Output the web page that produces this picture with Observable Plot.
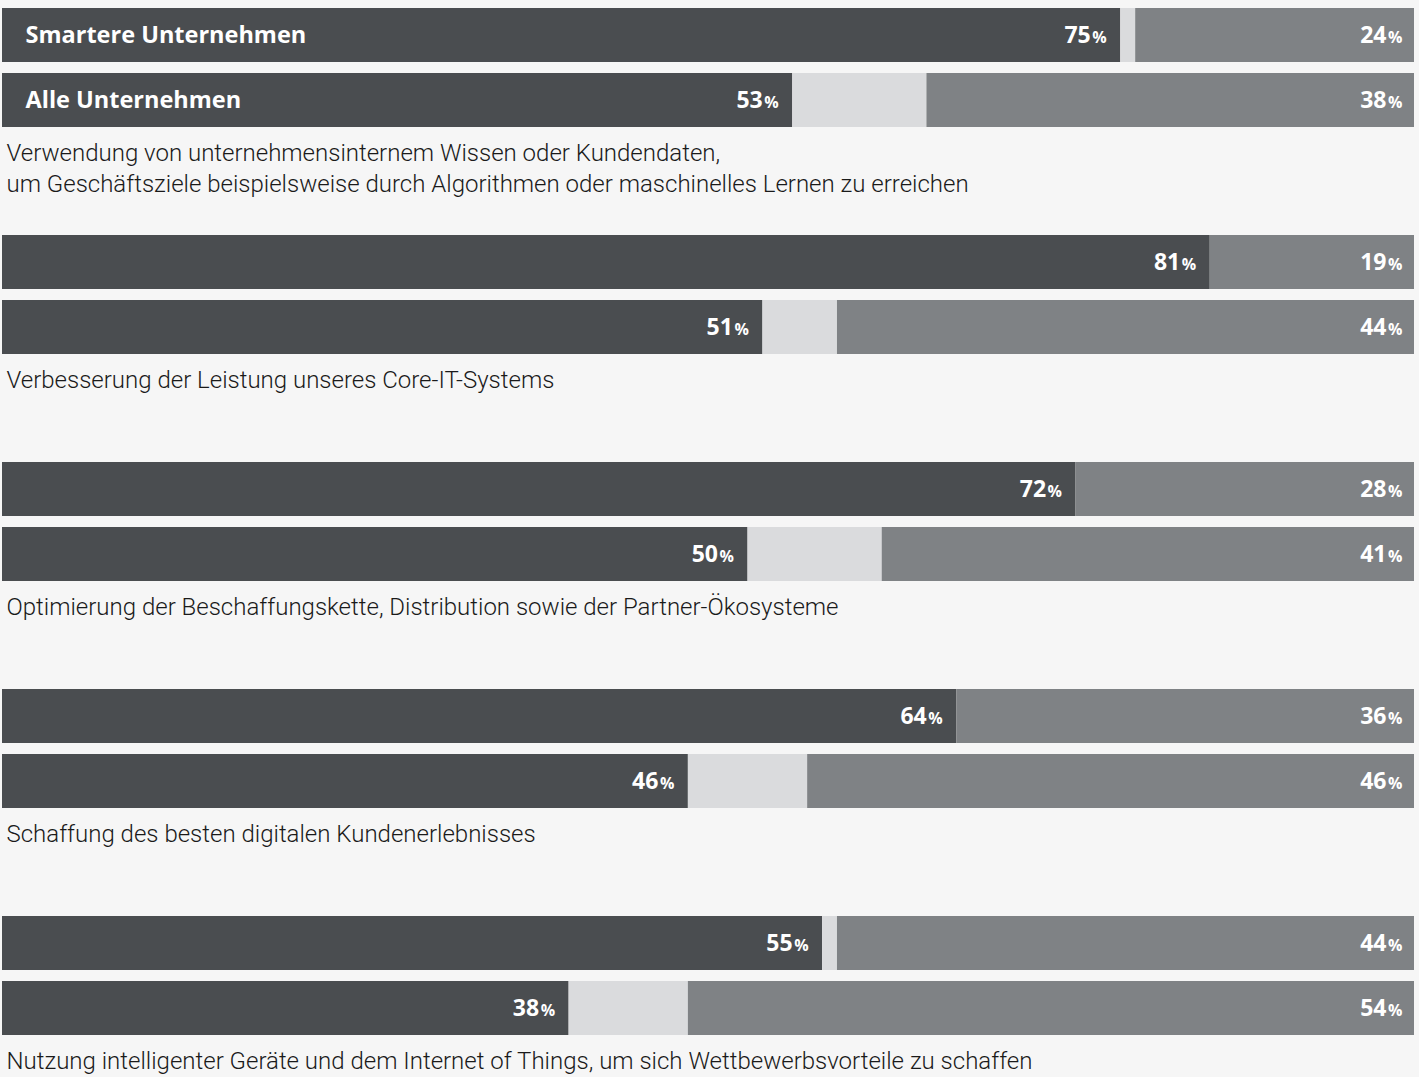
<!DOCTYPE html>
<html>
<head>
<meta charset="utf-8">
<script src="https://cdn.jsdelivr.net/npm/d3@7"></script>
<script src="https://cdn.jsdelivr.net/npm/@observablehq/plot@0.6"></script>
<style>
  html, body { margin: 0; padding: 0; background: #f6f6f6; overflow: hidden; }
</style>
</head>
<body>
<div id="chart"></div>
<script>
const groups = [
  "Verwendung von unternehmensinternem Wissen oder Kundendaten,\num Geschäftsziele beispielsweise durch Algorithmen oder maschinelles Lernen zu erreichen",
  "Verbesserung der Leistung unseres Core-IT-Systems",
  "Optimierung der Beschaffungskette, Distribution sowie der Partner-Ökosysteme",
  "Schaffung des besten digitalen Kundenerlebnisses",
  "Nutzung intelligenter Geräte und dem Internet of Things, um sich Wettbewerbsvorteile zu schaffen"
];
const series = ["Smartere Unternehmen", "Alle Unternehmen"];
const smarterYes = [75, 81, 72, 64, 55];
const smarterUnsure = [1, 0, 0, 0, 1];
const smarterNo = [24, 19, 28, 36, 44];
const allYes = [53, 51, 50, 46, 38];
const allUnsure = [9, 5, 9, 8, 8];
const allNo = [38, 44, 41, 46, 54];

const rows = groups.flatMap((g, i) => [
  {group: g, series: series[0], yes: smarterYes[i], unsure: smarterUnsure[i], no: smarterNo[i]},
  {group: g, series: series[1], yes: allYes[i], unsure: allUnsure[i], no: allNo[i]}
]);

const dark = "#4a4d50", light = "#dadbdd", mid = "#7f8285";
const boldFont = "'Open Sans', sans-serif";
const lightFont = "Roboto, sans-serif";

const chart = Plot.plot({
  width: 1419,
  height: 1077,
  marginTop: 0, marginBottom: 0, marginLeft: 2, marginRight: 5,
  style: {background: "#f6f6f6"},
  x: {domain: [0, 94.7], clamp: true, axis: null},
  y: {domain: series, range: [0, 119], paddingInner: 11 / 65, paddingOuter: 0, axis: null},
  fy: {domain: groups, range: [8, 8 + 5 * 227], padding: 0, axis: null},
  marks: [
    Plot.barX(rows, {fy: "group", y: "series", x1: 0, x2: "yes", fill: dark}),
    Plot.barX(rows, {fy: "group", y: "series", x1: "yes", x2: d => d.yes + d.unsure, fill: light}),
    Plot.barX(rows, {fy: "group", y: "series", x1: d => d.yes + d.unsure, x2: () => 100, fill: mid}),
    // value labels (dark)
    Plot.text(rows, {fy: "group", y: "series", x: "yes", text: d => String(d.yes), textAnchor: "end", dx: -30,
      fill: "white", fontWeight: 700, fontSize: 23, fontFamily: boldFont}),
    Plot.text(rows, {fy: "group", y: "series", x: "yes", text: () => "%", textAnchor: "end", dx: -14, dy: 2,
      fill: "white", fontWeight: 700, fontSize: 16, fontFamily: boldFont}),
    // value labels (medium)
    Plot.text(rows, {fy: "group", y: "series", x: () => 100, text: d => String(d.no), textAnchor: "end", dx: -28,
      fill: "white", fontWeight: 700, fontSize: 23, fontFamily: boldFont}),
    Plot.text(rows, {fy: "group", y: "series", x: () => 100, text: () => "%", textAnchor: "end", dx: -12, dy: 2,
      fill: "white", fontWeight: 700, fontSize: 16, fontFamily: boldFont}),
    // series names in first group
    Plot.text(rows.filter(d => d.group === groups[0]), {fy: "group", y: "series", x: () => 0, text: "series",
      textAnchor: "start", dx: 23, fill: "white", fontWeight: 700, fontSize: 23.5, fontFamily: boldFont}),
    // group labels
    Plot.text(groups, {fy: d => d, text: d => d, frameAnchor: "top-left", textAnchor: "start", lineAnchor: "top",
      dx: 4, dy: 130, fontSize: 24, lineHeight: 1.3, fill: "#1a1a1a", fontWeight: 300, fontFamily: lightFont})
  ]
});
document.getElementById("chart").appendChild(chart);
</script>
</body>
</html>
